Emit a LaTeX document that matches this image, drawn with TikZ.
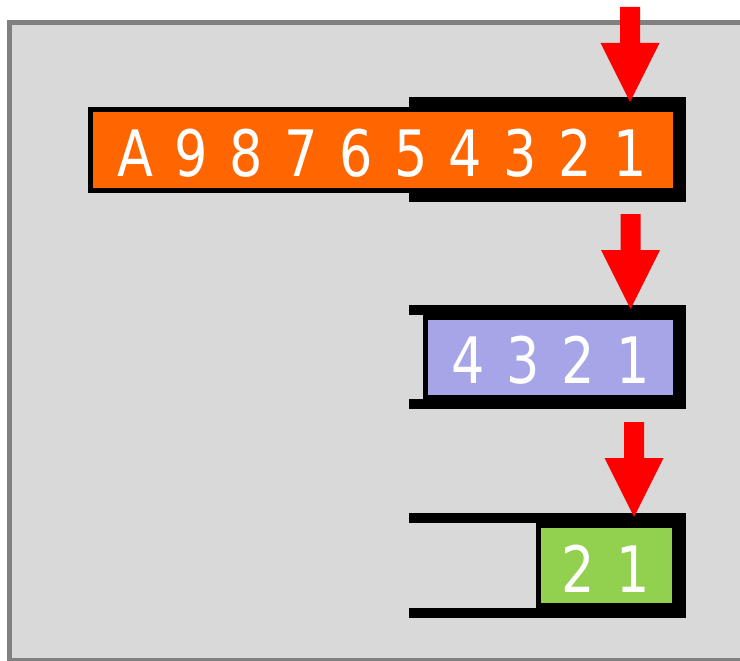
\documentclass[tikz,border=0pt]{standalone}
\usepackage{fontspec}
\setmainfont{DejaVu Sans}
\newfontfamily\regfamily[FakeStretch=0.82]{DejaVu Sans}
\usepackage{tikz}
\definecolor{panelgray}{HTML}{D9D9D9}
\definecolor{bordergray}{HTML}{808080}
\definecolor{regorange}{HTML}{FF6600}
\definecolor{reglavender}{HTML}{A5A5E8}
\definecolor{reggreen}{HTML}{92D050}
\newcommand\regfont{\regfamily\fontsize{64}{64}\selectfont\spaceskip 21.5pt\relax}
\tikzset{
	bracket/.style = {draw=black, line width=10pt},
	cell/.style = {draw=black, line width=5pt},
	digits/.style = {text=white, inner sep=0pt, anchor=base west, font=\regfont},
}

\begin{document}
\begin{tikzpicture}[x=1pt, y=-1pt]
	\useasboundingbox (0,0) rectangle (740,661) ;
	\draw[fill=panelgray, draw=bordergray, line width=5pt] (9.5,22.5) rectangle (780,660.5) ;
	
	% open brackets round each register
	\foreach \t/\b in {102/197, 310/404, 518/613}
	{
		\draw[bracket] (409,\t) -- (681,\t) -- (681,\b) -- (409,\b) ;
	}
	
	\draw[cell, fill=regorange] (90,109.5) rectangle (675,190.5) ;
	\draw[cell, fill=reglavender] (425.5,317.5) rectangle (675,397.5) ;
	\draw[cell, fill=reggreen] (538.5,525.5) rectangle (674.5,605.5) ;
	
	\node[digits] (regA) at (117,176) {A 9 8 7 6 5 4 3 2 1} ;
	\node[digits] (regB) at (451.3,383) {4 3 2 1} ;
	\node[digits] (regC) at (561.3,592) {2 1} ;
	
	% block arrows, tip 95 below the top of the shaft
	\foreach \x/\y in {630/7, 630.5/214, 634/422}
	{
		\fill[red] (\x-10,\y) -- (\x+10,\y) -- (\x+10,\y+36) -- (\x+29.5,\y+36)
			-- (\x,\y+95) -- (\x-29.5,\y+36) -- (\x-10,\y+36) -- cycle ;
	}
\end{tikzpicture}
\end{document}
